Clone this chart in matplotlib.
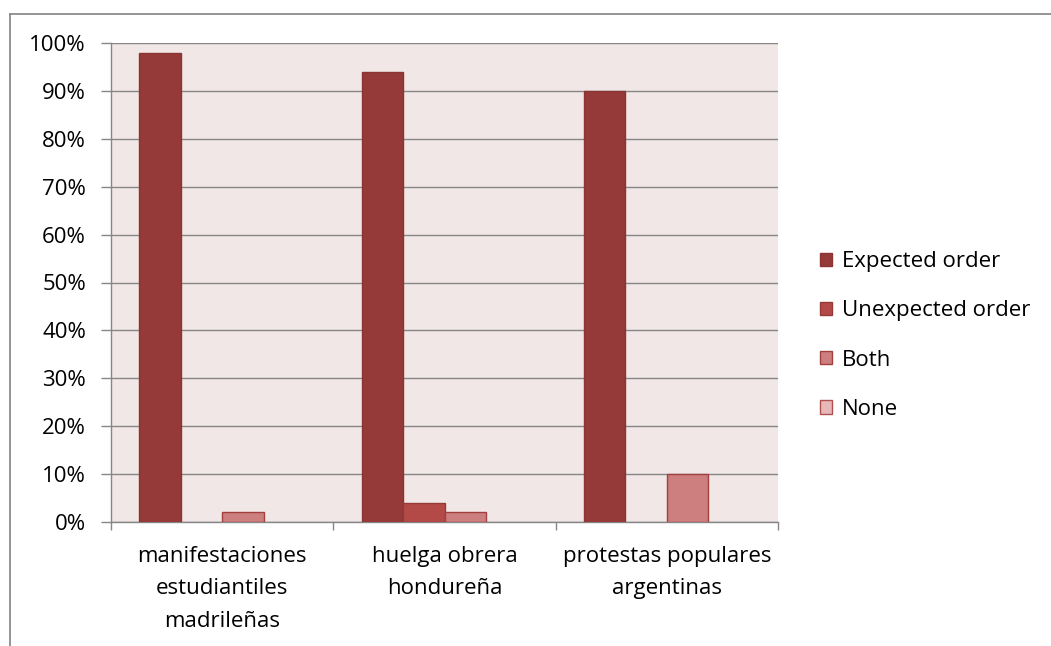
import matplotlib
matplotlib.use("Agg")
import matplotlib.pyplot as plt
from matplotlib.patches import Rectangle
from matplotlib.lines import Line2D
import numpy as np

categories = ["manifestaciones\nestudiantiles\nmadrileñas", "huelga obrera\nhondureña", "protestas populares\nargentinas"]
series_names = ["Expected order", "Unexpected order", "Both", "None"]
expected = [98, 94, 90]
unexpected = [0, 4, 0]
both = [2, 2, 10]
none_ = [0, 0, 0]
yticks = [0, 10, 20, 30, 40, 50, 60, 70, 80, 90, 100]

series = [expected, unexpected, both, none_]
fills = ["#953A39", "#B44A48", "#CD7E7E", "#E6B9B8"]
edges = ["#8A3533", "#963A38", "#A33F3E", "#B05050"]

plt.rcParams['font.family'] = ['Open Sans', 'DejaVu Sans']
fs = 16

fig = plt.figure(figsize=(10.51, 6.46), dpi=100)
W, H = 1051, 646
x0, x1, ytop, ybot = 111, 778, 43, 522
ax = fig.add_axes([x0 / W, (H - ybot) / H, (x1 - x0) / W, (ybot - ytop) / H])
ax.set_facecolor("#F2E7E7")

# outer frame
fig.add_artist(Line2D([9.5 / W, 1.0], [1 - 13.5 / H, 1 - 13.5 / H], color="#8C8C8C", lw=1.3, transform=fig.transFigure))
fig.add_artist(Line2D([9.5 / W, 9.5 / W], [0, 1 - 13.5 / H], color="#8C8C8C", lw=1.3, transform=fig.transFigure))

x = np.arange(len(categories))
w = 41.5 / ((x1 - x0) / 3)
offsets = [-1.5, -0.5, 0.5, 1.5]
for vals, off, fc, ec in zip(series, offsets, fills, edges):
    lws = [1.0 if v > 0 else 0.0 for v in vals]
    ax.bar(x + off * w, vals, width=w, color=fc, edgecolor=ec, linewidth=lws, zorder=3)

ax.set_xlim(-0.5, 2.5)
ax.set_ylim(0, 100)
ax.set_yticks(yticks)
ax.set_yticklabels([f"{v}%" for v in yticks], fontsize=fs, color="#000000")
ax.yaxis.grid(True, color="#868686", lw=1.0, zorder=1)
ax.tick_params(axis='y', length=7, width=1.0, color="#868686", pad=11)

ax.set_xticks(x)
ax.set_xticklabels(categories, fontsize=fs, linespacing=1.72, va="top")
ax.set_xticks([-0.5, 0.5, 1.5, 2.5], minor=True)
ax.tick_params(axis='x', which='major', length=0, pad=17)
ax.tick_params(axis='x', which='minor', length=6, width=1.0, color="#868686")

for s in ["top", "right"]:
    ax.spines[s].set_visible(False)
for s in ["left", "bottom"]:
    ax.spines[s].set_color("#868686")
    ax.spines[s].set_linewidth(1.0)
ax.set_axisbelow(True)

handles = [Rectangle((0, 0), 1, 1, facecolor=fc, edgecolor=ec, lw=1.0) for fc, ec in zip(fills, edges)]
leg = fig.legend(handles, series_names, loc="center left", bbox_to_anchor=(820 / W, 1 - 335.5 / H),
                 frameon=False, fontsize=fs, handlelength=0.55, handleheight=0.55,
                 handletextpad=0.45, labelspacing=1.27, borderaxespad=0, borderpad=0)

fig.savefig("out.png", dpi=100, facecolor="white")
